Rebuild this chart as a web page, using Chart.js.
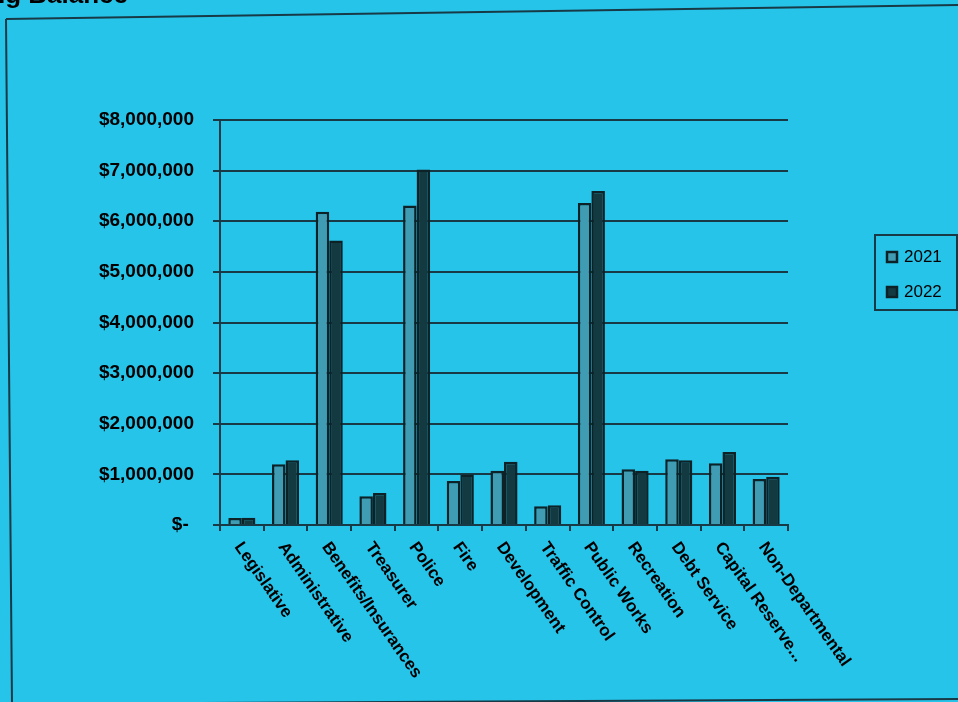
<!DOCTYPE html>
<html>
<head>
<meta charset="utf-8">
<script src="https://cdn.jsdelivr.net/npm/chart.js@4.4.1/dist/chart.umd.min.js"></script>
<style>
  html, body { margin: 0; padding: 0; background: #27c4ea; overflow: hidden; }
  #wrap { position: relative; width: 958px; height: 702px; }
</style>
</head>
<body>
<div id="wrap"><canvas id="budget" width="958" height="702"></canvas></div>
<script>
// Departments along the x axis
const departments = [
    'Legislative', 'Administrative', 'Benefits/Insurances', 'Treasurer', 'Police',
    'Fire', 'Development', 'Traffic Control', 'Public Works', 'Recreation',
    'Debt Service', 'Capital Reserve...', 'Non-Departmental'
];

// Budget per department
const budget2021 = [140000, 1200000, 6190000, 570000, 6310000, 870000, 1070000, 370000, 6360000, 1100000, 1300000, 1220000, 910000];
const budget2022 = [145000, 1280000, 5620000, 630000, 7020000, 1000000, 1250000, 390000, 6600000, 1070000, 1280000, 1440000, 955000];

// Y axis ticks
const yTickValues = [0, 1000000, 2000000, 3000000, 4000000, 5000000, 6000000, 7000000, 8000000];
const yTickLabels = ['$- ', '$1,000,000', '$2,000,000', '$3,000,000', '$4,000,000', '$5,000,000', '$6,000,000', '$7,000,000', '$8,000,000'];

const seriesNames = ['2021', '2022'];

const colors = {
    light: '#3f9cb3',
    dark: '#133a40',
    outline: '#0c2226',
    line: '#173a46',
    text: '#000000'
};

Chart.defaults.font.family = "'Liberation Sans', Arial, Helvetica, sans-serif";
Chart.defaults.color = colors.text;

// frame, title, slanted category labels and the boxed legend
const decorPlugin = {
    id: 'decor',
    beforeDraw(chart) {
        const ctx = chart.ctx;
        ctx.save();
        ctx.strokeStyle = colors.line;
        ctx.lineWidth = 2;
        ctx.beginPath();
        ctx.moveTo(6, 19); ctx.lineTo(962, 5);
        ctx.moveTo(6, 19); ctx.lineTo(12, 704);
        ctx.moveTo(12, 704); ctx.lineTo(962, 699);
        ctx.stroke();

        ctx.fillStyle = colors.text;
        ctx.font = "bold 26px 'Liberation Sans', Arial, sans-serif";
        ctx.textAlign = 'right';
        ctx.textBaseline = 'alphabetic';
        ctx.fillText('Operating Balance', 128, 3);
        ctx.restore();
    },
    afterDraw(chart) {
        const ctx = chart.ctx;
        const xs = chart.scales.x;
        const bottom = chart.chartArea.bottom;
        ctx.save();
        ctx.fillStyle = colors.text;
        ctx.font = "bold 17px 'Liberation Sans', Arial, sans-serif";
        ctx.textAlign = 'left';
        ctx.textBaseline = 'middle';
        chart.data.labels.forEach((lbl, i) => {
            const cx = xs.getPixelForValue(i);
            ctx.save();
            ctx.translate(cx - 4, bottom + 19);
            ctx.rotate(55 * Math.PI / 180);
            ctx.fillText(lbl, 0, 0);
            ctx.restore();
        });

        // legend box
        ctx.strokeStyle = colors.line;
        ctx.lineWidth = 2;
        ctx.strokeRect(875, 235, 82, 75);
        ctx.font = "17px 'Liberation Sans', Arial, sans-serif";
        chart.data.datasets.forEach((ds, i) => {
            const y = 257 + i * 35;
            ctx.fillStyle = ds.backgroundColor;
            ctx.fillRect(887, y - 5, 10, 10);
            ctx.strokeStyle = colors.outline;
            ctx.lineWidth = 2.5;
            ctx.strokeRect(887, y - 5, 10, 10);
            ctx.fillStyle = colors.text;
            ctx.fillText(ds.label, 904, y);
        });
        ctx.restore();
    }
};

const ctx = document.getElementById('budget').getContext('2d');
new Chart(ctx, {
    type: 'bar',
    data: {
        labels: departments,
        datasets: [
            { label: seriesNames[0], data: budget2021, backgroundColor: colors.light },
            { label: seriesNames[1], data: budget2022, backgroundColor: colors.dark }
        ]
    },
    options: {
        responsive: false,
        animation: false,
        layout: { padding: { left: 0, top: 120, right: 170, bottom: 0 } },
        datasets: {
            bar: {
                borderColor: colors.outline,
                borderWidth: 2.5,
                barPercentage: 1.0,
                categoryPercentage: 0.62
            }
        },
        scales: {
            x: {
                offset: true,
                afterFit: s => { s.height = 177; },
                ticks: { display: false },
                grid: { drawOnChartArea: false, drawTicks: true, tickLength: 6, color: colors.line, lineWidth: 2 },
                border: { color: colors.line, width: 2 }
            },
            y: {
                min: 0,
                max: 8000000,
                afterFit: s => { s.width = 220; },
                afterBuildTicks: s => { s.ticks = yTickValues.map(v => ({ value: v })); },
                ticks: {
                    padding: 19,
                    font: { size: 19, weight: 'bold' },
                    color: colors.text,
                    callback: (v) => yTickLabels[yTickValues.indexOf(v)]
                },
                grid: { color: colors.line, lineWidth: 2, tickLength: 7 },
                border: { color: colors.line, width: 2 }
            }
        },
        plugins: {
            legend: { display: false },
            tooltip: { enabled: false }
        }
    },
    plugins: [decorPlugin]
});
</script>
</body>
</html>
